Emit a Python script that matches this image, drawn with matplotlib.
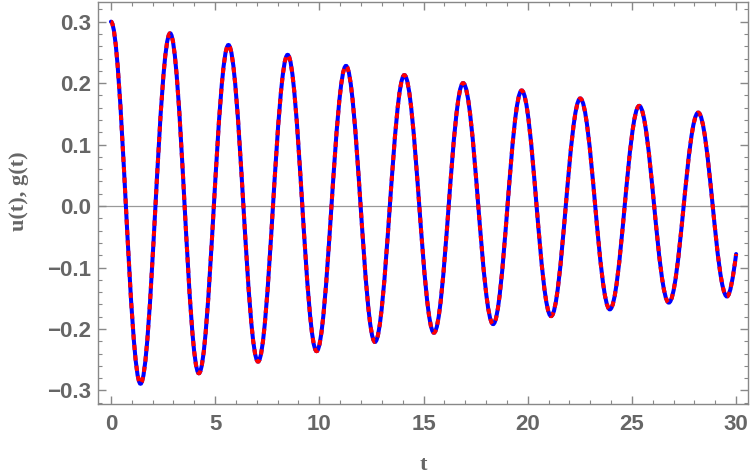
import matplotlib
matplotlib.use("Agg")
import matplotlib.pyplot as plt
from matplotlib.path import Path
from matplotlib.patches import PathPatch
from matplotlib.ticker import MultipleLocator

# extremos (t, u)
pico_t = [0.0, 2.84, 5.64, 8.48, 11.28, 14.08, 16.90, 19.71, 22.52, 25.35, 28.18]
pico_u = [0.300, 0.281, 0.262, 0.246, 0.228, 0.213, 0.200, 0.188, 0.175, 0.163, 0.152]
valle_t = [1.42, 4.22, 7.06, 9.87, 12.67, 15.50, 18.34, 21.12, 23.94, 26.77, 29.56]
valle_u = [-0.289, -0.272, -0.253, -0.236, -0.221, -0.206, -0.192, -0.179, -0.168, -0.157, -0.147]
fin_t, fin_u = 30.0, -0.078
fin_pendiente = 0.26   # du/dt en el ultimo punto

x_ticks = [0, 5, 10, 15, 20, 25, 30]
y_ticks = [-0.3, -0.2, -0.1, 0.0, 0.1, 0.2, 0.3]

gris = '#666666'

# juntar picos y valles en orden
extremos = sorted(zip(pico_t + valle_t, pico_u + valle_u))

# curva suave: bezier cubica entre extremos (tangente horizontal en cada uno)
k = 0.364
verts = [extremos[0]]
codes = [Path.MOVETO]
for (t0, u0), (t1, u1) in zip(extremos[:-1], extremos[1:]):
    h = t1 - t0
    verts += [(t0 + k*h, u0), (t1 - k*h, u1), (t1, u1)]
    codes += [Path.CURVE4]*3
t0, u0 = extremos[-1]
h = fin_t - t0
verts += [(t0 + h/3, u0), (fin_t - h/3, fin_u - fin_pendiente*h/3), (fin_t, fin_u)]
codes += [Path.CURVE4]*3
camino = Path(verts, codes)

fig = plt.figure(figsize=(7.5, 4.76), dpi=100)
ax = fig.add_axes([98/750, 72/476, 650/750, 402/476])

ax.axhline(0, color='#999999', lw=0.9, zorder=1)

ax.add_patch(PathPatch(camino, fill=False, edgecolor='#0000ff', lw=2.9,
                       capstyle='round', zorder=3))
ax.add_patch(PathPatch(camino, fill=False, edgecolor='#ff0000', lw=2.9,
                       linestyle=(0, (1.3, 1.3)), capstyle='butt', zorder=4))

ax.set_xlim(-0.62, 30.57)
ax.set_ylim(-0.322, 0.332)

ax.set_xticks(x_ticks)
ax.set_yticks(y_ticks)
ax.set_yticklabels([f'{v:.1f}'.replace('-', '\u2212') for v in y_ticks])
ax.xaxis.set_minor_locator(MultipleLocator(1))
ax.yaxis.set_minor_locator(MultipleLocator(0.02))

ax.tick_params(which='both', direction='in', top=True, right=True, color='#888888')
ax.tick_params(which='major', length=6, width=1)
ax.tick_params(which='minor', length=3, width=0.8)
ax.tick_params(axis='both', labelsize=16, labelcolor=gris)
ax.tick_params(axis='x', pad=7)
ax.tick_params(axis='y', pad=5)
for lab in ax.get_xticklabels() + ax.get_yticklabels():
    lab.set_fontweight('bold')
    lab.set_family('Liberation Sans')

for s in ax.spines.values():
    s.set_color('#888888')
    s.set_linewidth(1)

ax.set_xlabel('t', fontsize=16, fontweight='bold', family='Liberation Serif', color=gris)
ax.set_ylabel('u(t), g(t)', fontsize=16, fontweight='bold', family='Liberation Serif', color=gris)
ax.xaxis.set_label_coords(0.5, -0.127)
ax.yaxis.set_label_coords(-0.106, 0.53)

fig.savefig('out.png', dpi=100)
